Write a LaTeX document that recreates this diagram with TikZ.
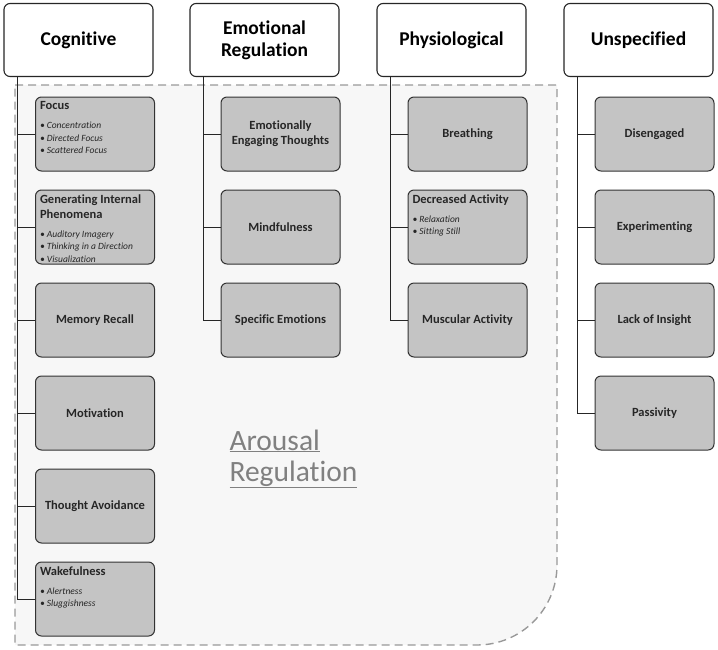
\documentclass[tikz,border=0pt]{standalone}
\usepackage{fontspec}
\setmainfont{Carlito}[Ligatures=NoCommon]
\usepackage{xcolor}

\definecolor{boxgray}{HTML}{C4C4C4}
\definecolor{regionfill}{HTML}{F7F7F7}
\definecolor{dashgray}{HTML}{999999}
\definecolor{labelgray}{HTML}{808080}

\tikzset{
  head/.style={draw=black!85, line width=1.1pt, rounded corners=6pt, fill=white,
    minimum width=149pt, minimum height=73pt, align=center,
    font=\bfseries\fontsize{19.5}{22}\selectfont},
  leaf/.style={draw=black!80, line width=1pt, rounded corners=6pt, fill=boxgray,
    minimum width=119pt, minimum height=74pt, align=center, text=black!85,
    font=\bfseries\fontsize{12.5}{15}\selectfont},
  listleaf/.style={leaf, inner sep=4.5pt},
  link/.style={draw=black!85, line width=1pt},
}

\newcommand{\leaftitle}[2]{\parbox[c][65pt][t]{110pt}{\raggedright #1\par
  \vspace{6.5pt}{\mdseries\itshape\fontsize{9.5}{12.5}\selectfont #2}}}
\newcommand{\itm}[1]{\textbullet\ #1\par}

\begin{document}
\begin{tikzpicture}[x=1pt,y=1pt]
          \useasboundingbox (0,0) rectangle (718,-649);

          % arousal regulation region
          \draw[dashgray, fill=regionfill, line width=1.4pt, dash pattern=on 8pt off 5pt]
            (15,-85) -- (557,-85) -- (557,-565)
            arc[start angle=0, end angle=-90, radius=80] -- (15,-645) -- cycle;
          \node[anchor=north west, align=left, text=labelgray,
            font=\fontsize{29.5}{31}\selectfont] (arousal) at (226,-426)
            {\underline{Arousal}\\\underline{Regulation}};

          % column heads
          \node[head] (cog) at (78.5,-40) {Cognitive};
          \node[head] (emo) at (264.5,-40) {Emotional\\Regulation};
          \node[head] (phys) at (451.5,-40) {Physiological};
          \node[head] (unsp) at (638.5,-40) {Unspecified};

          % cognitive
          \node[listleaf] (focus) at (95,-134) {\leaftitle{Focus}{\itm{Concentration}\itm{Directed Focus}\itm{Scattered Focus}}};
          \node[listleaf] (gen) at (95,-227) {\leaftitle{Generating Internal\\Phenomena}{\itm{Auditory Imagery}\itm{Thinking in a Direction}\itm{Visualization}}};
          \node[leaf] (recall) at (95,-320) {Memory Recall};
          \node[leaf] (motiv) at (95,-413) {Motivation};
          \node[leaf] (avoid) at (95,-506) {Thought Avoidance};
          \node[listleaf] (wake) at (95,-599) {\leaftitle{Wakefulness}{\itm{Alertness}\itm{Sluggishness}}};

          % emotional regulation
          \node[leaf] (engage) at (280.5,-134) {Emotionally\\Engaging Thoughts};
          \node[leaf] (mind) at (280.5,-227) {Mindfulness};
          \node[leaf] (specific) at (280.5,-320) {Specific Emotions};

          % physiological
          \node[leaf] (breath) at (467.5,-134) {Breathing};
          \node[listleaf] (decr) at (467.5,-227) {\leaftitle{Decreased Activity}{\itm{Relaxation}\itm{Sitting Still}}};
          \node[leaf] (musc) at (467.5,-320) {Muscular Activity};

          % unspecified
          \node[leaf] (diseng) at (654.5,-134) {Disengaged};
          \node[leaf] (exper) at (654.5,-227) {Experimenting};
          \node[leaf] (insight) at (654.5,-320) {Lack of Insight};
          \node[leaf] (passive) at (654.5,-413) {Passivity};

          % trunks
          \coordinate (cogt) at ([xshift=14.5pt]cog.south west);
          \coordinate (emot) at ([xshift=14.5pt]emo.south west);
          \coordinate (physt) at ([xshift=14.5pt]phys.south west);
          \coordinate (unspt) at ([xshift=14.5pt]unsp.south west);

          \draw[link] (cogt) |- (wake.west);
          \draw[link] (focus.west) -- (focus.west -| cogt);
          \draw[link] (gen.west) -- (gen.west -| cogt);
          \draw[link] (recall.west) -- (recall.west -| cogt);
          \draw[link] (motiv.west) -- (motiv.west -| cogt);
          \draw[link] (avoid.west) -- (avoid.west -| cogt);

          \draw[link] (emot) |- (specific.west);
          \draw[link] (engage.west) -- (engage.west -| emot);
          \draw[link] (mind.west) -- (mind.west -| emot);

          \draw[link] (physt) |- (musc.west);
          \draw[link] (breath.west) -- (breath.west -| physt);
          \draw[link] (decr.west) -- (decr.west -| physt);

          \draw[link] (unspt) |- (passive.west);
          \draw[link] (diseng.west) -- (diseng.west -| unspt);
          \draw[link] (exper.west) -- (exper.west -| unspt);
          \draw[link] (insight.west) -- (insight.west -| unspt);

          \end{tikzpicture}
\end{document}
